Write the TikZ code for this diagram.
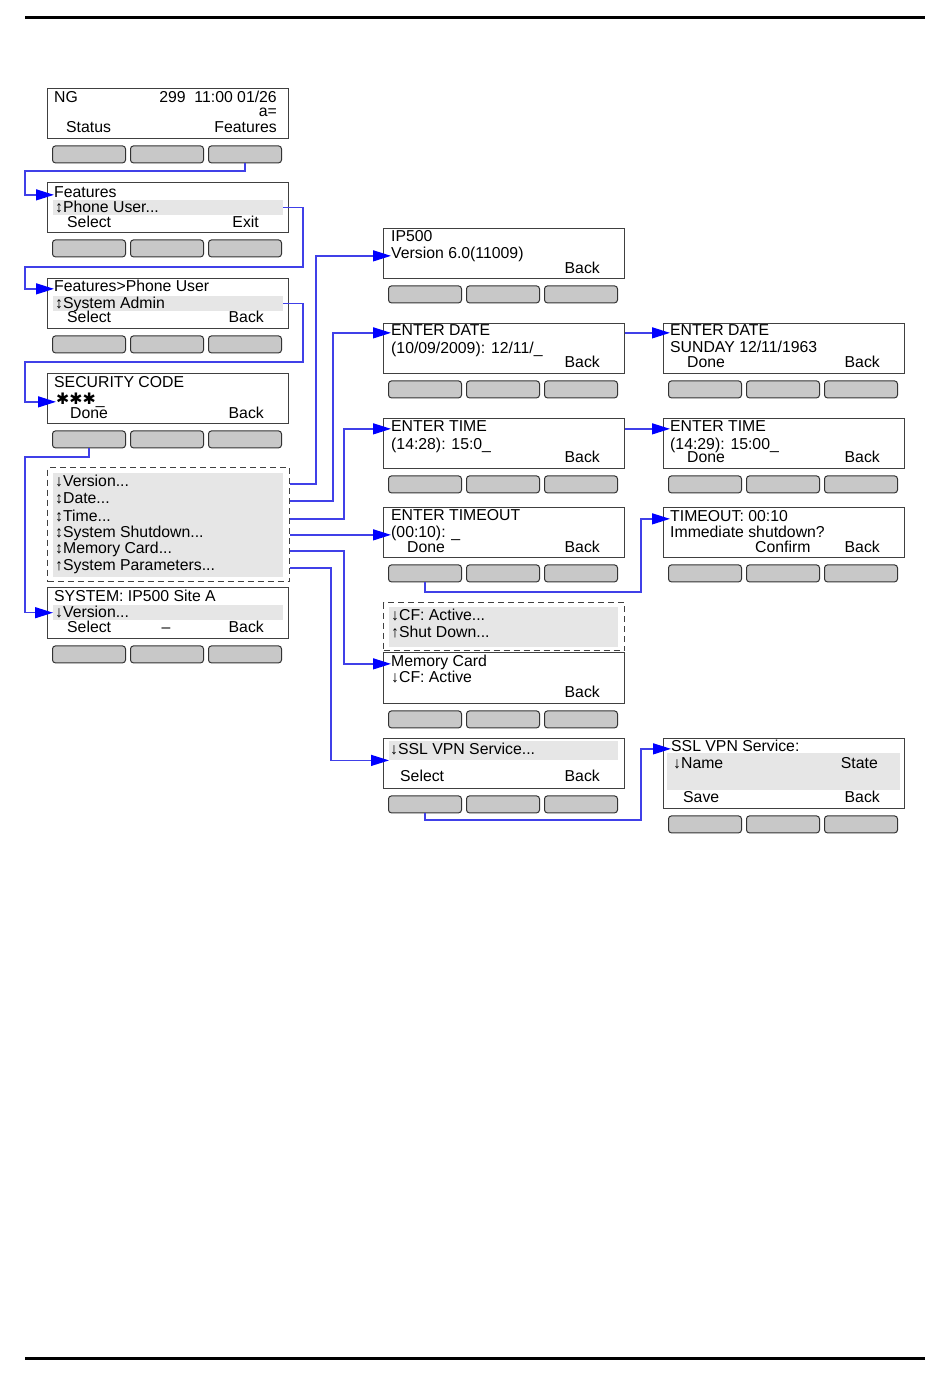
\documentclass[tikz,border=0pt]{standalone}
\usepackage{fontspec}
\setmainfont{Liberation Sans}
\newfontfamily\symfont{DejaVu Sans}
\usetikzlibrary{arrows.meta,calc}

\definecolor{linkblue}{RGB}{64,64,232}
\definecolor{tipblue}{RGB}{0,0,255}
\definecolor{keygray}{RGB}{200,200,200}
\definecolor{hlgray}{RGB}{230,230,230}

\tikzset{
  screen/.style={draw=black!75, line width=1.4pt, minimum width=241pt, minimum height=50pt, anchor=north west, inner sep=0pt},
  key/.style={draw=black!80, line width=1pt, fill=keygray, rounded corners=3pt, minimum width=73pt, minimum height=17pt, inner sep=0pt},
  hl/.style={fill=hlgray, inner sep=0pt, anchor=north west},
  menubox/.style={draw=black!75, line width=1.3pt, dash pattern=on 6pt off 4pt, anchor=north west, inner sep=0pt},
  txt/.style={inner sep=0pt, font=\fontsize{15.8}{16}\selectfont},
  link/.style={draw=linkblue, line width=1.3pt, -{Triangle[length=18pt,width=11pt,color=tipblue]}}
}

% three soft keys under a display
\newcommand\keys[1]{\foreach \k in {0,1,2}{\node[key,anchor=north west] (#1-b\k) at ($(#1.south west)+(5+78*\k,6)$) {};}}
% text lines: name, x, y of line centre, text
\newcommand\txl[4]{\node[txt,anchor=base west] (#1) at (#2,#3+5.5) {#4};}
\newcommand\txr[4]{\node[txt,anchor=base east] (#1) at (#2,#3+5.5) {#4};}

\begin{document}
\begin{tikzpicture}[x=1pt,y=-1pt]
\useasboundingbox (0,0) rectangle (950,1388);
\draw[line width=3pt] (25,18) -- (925,18);
\draw[line width=3pt] (25,1358) -- (925,1358);

% left column
\node[screen] (s1) at (47,88) {};
\keys{s1}
\txl{s1t1}{54}{97}{NG}
\txr{s1t2}{277}{97}{299\ \ 11:00 01/26}
\txr{s1t3}{277}{111}{a=}
\txl{s1t4}{66}{127}{Status}
\txr{s1t5}{277}{127}{Features}

\node[screen] (s2) at (47,182) {};
\keys{s2}
\node[hl, minimum width=230pt, minimum height=15pt] (s2h) at (53,200) {};
\txl{s2t1}{54}{192}{Features}
\txl{s2t2}{55}{207}{↕Phone User...}
\txl{s2t3}{67}{222}{Select}
\txr{s2t4}{259}{222}{Exit}

\node[screen] (s3) at (47,278) {};
\keys{s3}
\node[hl, minimum width=230pt, minimum height=15pt] (s3h) at (53,296) {};
\txl{s3t1}{54}{286}{Features>Phone User}
\txl{s3t2}{55}{303}{↕System Admin}
\txl{s3t3}{67}{317}{Select}
\txr{s3t4}{264}{317}{Back}

\node[screen] (s4) at (47,373) {};
\keys{s4}
\txl{s4t1}{54}{382}{SECURITY CODE}
\txl{s4t2}{56}{399}{{\symfont ✱✱✱}\_}
\txl{s4t3}{70}{413}{Done}
\txr{s4t4}{264}{413}{Back}

\node[menubox, minimum width=242pt, minimum height=114pt] (menu) at (47,467) {};
\node[hl, minimum width=230pt, minimum height=104pt] (menuh) at (53,473) {};
\txl{m1}{55}{481}{↓Version...}
\txl{m2}{55}{498}{↕Date...}
\txl{m3}{55}{516}{↕Time...}
\txl{m4}{55}{532}{↕System Shutdown...}
\txl{m5}{55}{548}{↕Memory Card...}
\txl{m6}{55}{565}{↑System Parameters...}

\node[screen, minimum height=51pt] (s6) at (47,587) {};
\keys{s6}
\node[hl, minimum width=230pt, minimum height=15pt] (s6h) at (53,605) {};
\txl{s6t1}{54}{596}{SYSTEM: IP500 Site A}
\txl{s6t2}{55}{612}{↓Version...}
\txl{s6t3}{67}{627}{Select}
\node[txt,anchor=base] (s6t4) at (166,632.5) {–};
\txr{s6t5}{264}{627}{Back}

% middle column
\node[screen] (ip) at (383,228) {};
\keys{ip}
\txl{ipt1}{391}{236}{IP500}
\txl{ipt2}{391}{253}{Version 6.0(11009)}
\txr{ipt3}{600}{268}{Back}

\node[screen] (dat) at (383,323) {};
\keys{dat}
\txl{datt1}{391}{330}{ENTER DATE}
\txl{datt2}{391}{348}{(10/09/2009): 12/11/\_}
\txr{datt3}{600}{362}{Back}

\node[screen] (tim) at (383,418) {};
\keys{tim}
\txl{timt1}{391}{426}{ENTER TIME}
\txl{timt2}{391}{444}{(14:28): 15:0\_}
\txr{timt3}{600}{457}{Back}

\node[screen] (tmo) at (383,507) {};
\keys{tmo}
\txl{tmot1}{391}{515}{ENTER TIMEOUT}
\txl{tmot2}{391}{532}{(00:10): \_}
\txl{tmot3}{407}{547}{Done}
\txr{tmot4}{600}{547}{Back}

\node[menubox, minimum width=241pt, minimum height=48pt] (cf) at (383,602) {};
\node[hl, minimum width=229pt, minimum height=40pt] (cfh) at (389,607) {};
\txl{cft1}{391}{615}{↓CF: Active...}
\txl{cft2}{391}{632}{↑Shut Down...}

\node[screen, minimum height=51pt] (mem) at (383,652) {};
\keys{mem}
\txl{memt1}{391}{661}{Memory Card}
\txl{memt2}{391}{677}{↓CF: Active}
\txr{memt3}{600}{692}{Back}

\node[screen] (ssl) at (383,738) {};
\keys{ssl}
\node[hl, minimum width=229pt, minimum height=19pt] (sslh) at (389,741) {};
\txl{sslt1}{390}{749}{↓SSL VPN Service...}
\txl{sslt2}{400}{776}{Select}
\txr{sslt3}{600}{776}{Back}

% right column
\node[screen] (rdat) at (663,323) {};
\keys{rdat}
\txl{rdatt1}{670}{330}{ENTER DATE}
\txl{rdatt2}{670}{347}{SUNDAY 12/11/1963}
\txl{rdatt3}{687}{362}{Done}
\txr{rdatt4}{880}{362}{Back}

\node[screen] (rtim) at (663,418) {};
\keys{rtim}
\txl{rtimt1}{670}{426}{ENTER TIME}
\txl{rtimt2}{670}{444}{(14:29): 15:00\_}
\txl{rtimt3}{687}{457}{Done}
\txr{rtimt4}{880}{457}{Back}

\node[screen] (rtmo) at (663,507) {};
\keys{rtmo}
\txl{rtmot1}{670}{516}{TIMEOUT: 00:10}
\txl{rtmot2}{670}{532}{Immediate shutdown?}
\txl{rtmot3}{755}{547}{Confirm}
\txr{rtmot4}{880}{547}{Back}

\node[screen, minimum height=70pt] (rssl) at (663,738) {};
\keys{rssl}
\node[hl, minimum width=233pt, minimum height=37pt] (rsslh) at (667,753) {};
\txl{rsslt1}{671}{746}{SSL VPN Service:}
\txl{rsslt2}{673}{763}{↓Name}
\txr{rsslt3}{878}{763}{State}
\txl{rsslt4}{683}{797}{Save}
\txr{rsslt5}{880}{797}{Back}

% connectors
\coordinate (g1) at (25,171);
\coordinate (r2) at (303,267); \coordinate (g2) at (25,267);
\coordinate (r3) at (303,362); \coordinate (g3) at (25,362);
\coordinate (g4) at (25,457);
\coordinate (vA) at (316,0); \coordinate (vB) at (333,0);
\coordinate (vC) at (344,0); \coordinate (vE) at (331,0);
\coordinate (g5) at (641,592); \coordinate (g6) at (641,820);

\draw[link] (s1-b2.south) |- (g1) |- (s2t1.mid west);
\draw[link] (s2h.east) -| (r2) -- (g2) |- (s3t1.mid west);
\draw[link] (s3h.east) -| (r3) -- (g3) |- (s4t2.mid west);
\draw[link] (s4-b0.south) |- (g4) |- (s6h.west);

\draw[link] (menu.east |- m1.mid west) -| (vA |- ipt2.mid west) -- (ipt2.mid west);
\draw[link] (menu.east |- m2.mid west) -| (vB |- datt1.mid west) -- (datt1.mid west);
\draw[link] (menu.east |- m3.mid west) -| (vC |- timt1.mid west) -- (timt1.mid west);
\draw[link] (menu.east |- tmot2.mid west) -- (tmot2.mid west);
\draw[link] (menu.east |- m5.mid west) -| (vC |- memt1.mid west) -- (memt1.mid west);
\draw[link] (menu.east |- m6.mid west) -| (vE |- sslh.south west) -- (sslh.south west);

\draw[link] (dat.east |- datt1.mid west) -- (rdatt1.mid west);
\draw[link] (tim.east |- timt1.mid west) -- (rtimt1.mid west);
\draw[link] (tmo-b0.south) |- (g5) |- (rtmot1.mid west);
\draw[link] (ssl-b0.south) |- (g6) |- (rsslt1.mid west);
\end{tikzpicture}
\end{document}
